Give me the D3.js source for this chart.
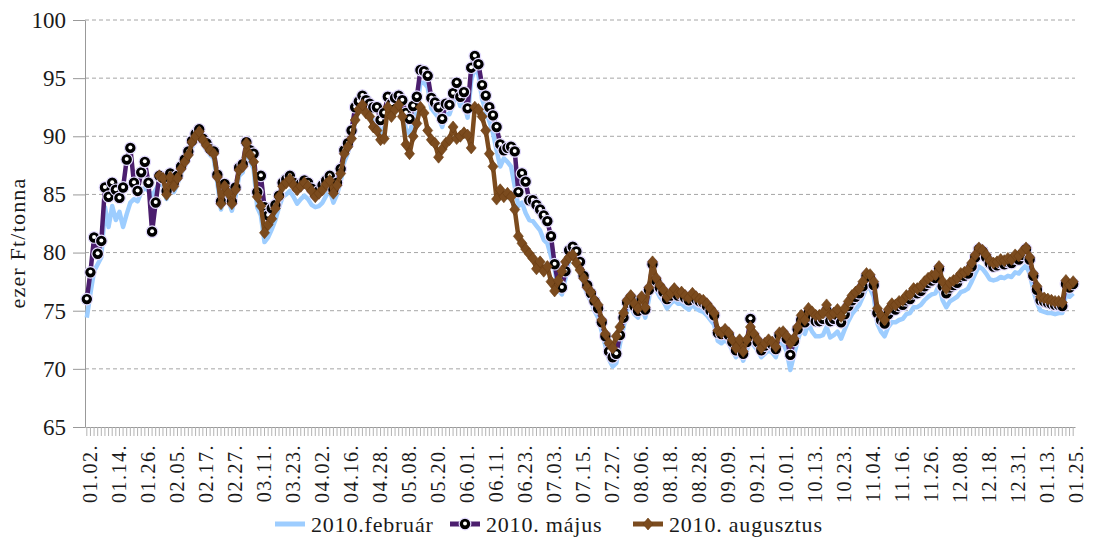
<!DOCTYPE html>
<html>
<head>
<meta charset="utf-8">
<script src="https://cdn.jsdelivr.net/npm/d3@7"></script>
<style>
  body { margin: 0; background: #fff; }
  text { font-family: "Liberation Serif", "Times New Roman", serif; fill: #1a1a1a; }
</style>
</head>
<body>
<script>
// tick labels, one every 8 trading days
const tickLabels = ["01.02.", "01.14.", "01.26.", "02.05.", "02.17.", "02.27.", "03.11.", "03.23.", "04.02.",
  "04.16.", "04.28.", "05.08.", "05.20.", "06.01.", "06.11.", "06.23.", "07.03.", "07.15.", "07.27.",
  "08.06.", "08.18.", "08.28.", "09.09.", "09.21.", "10.01.", "10.13.", "10.23.", "11.04.", "11.16.",
  "11.26.", "12.08.", "12.18.", "12.31.", "01.13.", "01.25."];
const labelStep = 8;

const seriesNames = ["2010.február", "2010. május", "2010. augusztus"];

const februar = [
  74.4, 76.5, 78.4, 79.0, 79.6, 83.9, 82.2, 84.0, 82.8, 83.5,
  82.2, 83.3, 84.3, 84.6, 84.4, 85.2, 85.6, 85.3, 84.9, 85.4,
  86.0, 85.8, 84.6, 86.0, 85.2, 85.9, 86.8, 87.4, 88.0, 89.0,
  89.7, 90.1, 89.3, 88.8, 88.4, 88.1, 86.0, 83.7, 85.2, 84.5,
  83.6, 84.8, 86.6, 86.9, 88.9, 87.9, 87.2, 83.9, 83.2, 80.9,
  81.3, 82.0, 82.8, 83.9, 84.8, 85.0, 85.3, 84.8, 84.2, 84.6,
  84.9, 84.6, 84.1, 83.9, 84.0, 84.3, 84.9, 85.3, 84.3, 85.0,
  86.1, 87.8, 88.6, 89.6, 91.4, 92.2, 92.7, 92.2, 91.9, 91.4,
  91.3, 90.2, 90.8, 92.5, 91.8, 92.4, 92.8, 92.2, 90.6, 90.2,
  91.4, 92.4, 94.6, 94.6, 94.2, 92.4, 92.0, 91.6, 90.8, 91.9,
  91.9, 92.8, 93.6, 92.6, 92.9, 91.6, 94.8, 95.9, 95.3, 93.2,
  92.2, 91.3, 90.3, 88.8, 87.4, 88.1, 87.8, 87.4, 85.7, 84.0,
  84.3, 83.4, 82.8, 82.7, 82.3, 81.9, 81.1, 80.8, 79.7, 78.6,
  76.8, 76.4, 77.8, 79.4, 79.7, 79.3, 78.4, 77.3, 76.4, 75.8,
  75.0, 74.4, 73.2, 72.0, 70.8, 70.2, 70.5, 72.1, 73.6, 75.0,
  75.4, 74.7, 74.4, 75.4, 74.4, 76.0, 78.2, 76.8, 76.2, 75.8,
  75.2, 75.6, 75.9, 75.6, 75.6, 75.3, 75.1, 75.5, 75.2, 75.0,
  74.9, 74.6, 74.2, 73.8, 72.4, 72.2, 72.5, 72.2, 71.6, 71.0,
  71.6, 70.7, 71.6, 72.6, 72.0, 71.6, 71.0, 71.3, 71.6, 71.4,
  71.0, 72.1, 72.2, 71.5, 69.9, 71.2, 72.4, 73.4, 73.0, 73.9,
  73.2, 72.8, 72.8, 72.9, 73.6, 72.7, 72.9, 73.2, 72.6, 73.4,
  74.1, 74.7, 75.1, 75.5, 76.2, 77.0, 76.9, 76.2, 73.9, 73.2,
  72.8, 73.6, 74.0, 74.0, 74.2, 74.3, 74.7, 74.8, 75.3, 75.3,
  75.5, 75.9, 76.2, 76.4, 76.5, 77.2, 75.9, 75.3, 75.8, 76.0,
  76.2, 76.6, 76.7, 76.9, 77.5, 78.2, 78.8, 78.6, 78.2, 77.7,
  77.6, 77.7, 77.9, 77.8, 78.0, 77.9, 78.3, 78.2, 78.6, 78.9,
  78.2, 76.8, 75.7, 75.0, 74.9, 74.8, 74.8, 74.7, 74.8, 74.8,
  76.4, 76.2, 76.5
];

const majus = [
  76.0, 78.3, 81.3, 79.9, 81.0, 85.6, 84.8, 86.0, 85.4, 84.7,
  85.6, 88.0, 89.0, 86.0, 85.3, 86.9, 87.8, 86.0, 81.8, 84.3,
  86.6, 86.4, 85.3, 86.8, 86.0, 86.6, 87.4, 88.0, 88.7, 89.6,
  90.2, 90.6, 89.8, 89.4, 88.9, 88.7, 86.7, 84.4, 85.9, 85.3,
  84.4, 85.6, 87.3, 87.6, 89.5, 88.8, 88.5, 85.2, 86.6, 83.9,
  83.2, 83.8, 84.1, 84.9, 86.0, 86.3, 86.6, 86.0, 85.6, 85.9,
  86.2, 86.0, 85.5, 85.0, 85.3, 85.8, 86.2, 86.6, 85.4, 86.0,
  87.2, 88.8, 89.4, 90.5, 92.5, 93.0, 93.5, 93.1, 92.8, 92.5,
  92.5, 91.4, 92.0, 93.4, 92.8, 93.3, 93.5, 93.1, 92.0, 91.5,
  92.6, 93.4, 95.7, 95.6, 95.2, 93.3, 92.9, 92.5, 91.5, 92.8,
  92.7, 93.7, 94.6, 93.4, 93.8, 92.4, 95.9, 96.9, 96.2, 94.4,
  93.5, 92.5, 91.8, 90.8, 89.3, 88.8, 89.0, 89.1, 88.7, 85.2,
  86.8, 86.1, 84.5, 84.5, 84.1, 83.7, 83.2, 82.7, 81.4, 79.0,
  77.3, 77.0, 78.4, 80.2, 80.5, 80.1, 79.2, 78.0, 77.2, 76.5,
  75.8, 75.2, 74.0, 72.8, 71.5, 71.0, 71.3, 72.9, 74.4, 75.7,
  76.1, 75.4, 75.0, 76.0, 75.1, 76.8, 79.0, 77.6, 77.0, 76.6,
  76.0, 76.3, 76.7, 76.3, 76.4, 76.1, 75.9, 76.3, 76.0, 75.8,
  75.7, 75.4, 75.0, 74.6, 73.1, 73.0, 73.2, 72.9, 72.3, 71.6,
  72.3, 71.3, 72.3, 74.3, 72.8, 72.3, 71.6, 72.0, 72.3, 72.1,
  71.7, 72.9, 73.0, 72.6, 71.2, 72.4, 73.4, 74.2, 74.0, 74.8,
  74.4, 74.1, 74.1, 74.3, 75.0, 74.1, 74.3, 74.6, 74.0, 74.7,
  75.4, 75.9, 76.2, 76.5, 77.1, 78.0, 77.8, 77.2, 74.8, 74.2,
  73.9, 74.7, 75.2, 75.1, 75.4, 75.5, 75.9, 76.0, 76.5, 76.5,
  76.7, 77.1, 77.4, 77.6, 77.8, 78.6, 77.1, 76.5, 77.0, 77.2,
  77.4, 77.9, 78.0, 78.2, 78.8, 79.6, 80.3, 80.1, 79.6, 79.1,
  78.8, 78.9, 79.1, 79.0, 79.2, 79.1, 79.5, 79.4, 79.8, 80.3,
  79.4, 78.0, 76.8, 75.9, 75.8, 75.7, 75.6, 75.5, 75.5, 75.4,
  77.3, 77.0, 77.3
];

const augusztus = [
  null, null, null, null, null, null, null, null, null, null,
  null, null, null, null, null, null, null, null, null, null,
  86.6, 86.4, 85.0, 86.5, 85.7, 86.4, 87.2, 87.8, 88.4, 89.5,
  90.0, 90.4, 89.7, 89.2, 88.8, 88.5, 86.5, 84.2, 85.7, 85.1,
  84.2, 85.4, 87.1, 87.4, 89.4, 88.4, 87.8, 84.8, 84.0, 81.7,
  82.4, 82.9, 83.8, 84.8, 85.7, 86.0, 86.3, 85.8, 85.4, 85.7,
  86.0, 85.7, 85.3, 84.8, 85.1, 85.4, 85.9, 86.2, 85.1, 85.8,
  86.8, 88.5, 89.1, 89.8, 91.4, 92.3, 92.7, 92.0, 91.7, 90.8,
  90.5, 89.7, 89.8, 92.5, 91.7, 92.3, 92.7, 91.7, 89.3, 88.5,
  90.0, 91.1, 92.5, 92.0, 90.5, 89.7, 89.4, 88.2, 88.9, 89.4,
  89.7, 90.8, 89.8, 90.0, 90.3, 90.1, 89.0, 92.5, 92.3, 91.7,
  90.5, 88.5, 87.4, 84.6, 85.4, 84.8, 85.1, 84.8, 83.7, 81.4,
  80.8, 80.3, 79.9, 79.5, 78.6, 79.2, 78.4, 78.8, 77.5, 76.7,
  77.6, 78.4, 79.2, 79.6, 79.8, 79.1, 78.5, 77.8, 77.0, 76.6,
  75.9, 75.5, 74.2, 73.0, 72.2, 71.8, 72.8, 73.6, 74.8, 75.9,
  76.3, 75.6, 75.2, 76.2, 75.3, 77.0, 79.2, 77.8, 77.2, 76.8,
  76.2, 76.5, 76.9, 76.5, 76.6, 76.3, 76.1, 76.5, 76.2, 76.0,
  75.9, 75.6, 75.2, 74.8, 73.3, 73.1, 73.4, 73.1, 72.5, 71.8,
  72.5, 71.5, 72.5, 73.6, 73.0, 72.5, 71.8, 72.2, 72.5, 72.3,
  71.9, 73.1, 73.2, 72.8, 72.2, 72.6, 73.6, 74.6, 74.2, 75.2,
  74.9, 74.6, 74.6, 74.8, 75.5, 74.6, 74.8, 75.1, 74.5, 75.2,
  75.8, 76.3, 76.6, 76.9, 77.5, 78.2, 78.1, 77.5, 75.2, 74.6,
  74.2, 75.1, 75.6, 75.5, 75.8, 75.9, 76.3, 76.4, 76.9, 76.9,
  77.1, 77.5, 77.8, 78.0, 78.1, 78.8, 77.5, 76.9, 77.4, 77.6,
  77.8, 78.2, 78.3, 78.5, 79.1, 79.8, 80.4, 80.2, 79.8, 79.3,
  79.1, 79.2, 79.4, 79.3, 79.5, 79.4, 79.8, 79.7, 80.1, 80.4,
  79.6, 78.2, 77.1, 76.2, 76.1, 76.0, 75.9, 75.8, 75.8, 75.7,
  77.6, 77.2, 77.5
];

const blue = "#9dcdff", purple = "#4b1e6e", brown = "#7b4b1e";

let width = 1096, height = 541;
let plot = { left: 85, right: 1075, top: 20, bottom: 427 };

let svg = d3.select("body").append("svg")
  .attr("width", width)
  .attr("height", height);

let x = d3.scaleBand()
  .domain(majus.map((d, i) => i))
  .range([plot.left, plot.right]);
let cx = i => x(i) + x.bandwidth() / 2;

let y = d3.scaleLinear()
  .domain([65, 100])
  .range([plot.bottom, plot.top]);

// dashed grid
svg.append("g")
  .selectAll("line")
  .data(y.ticks(7).filter(v => v > 65))
  .join("line")
  .attr("x1", plot.left)
  .attr("x2", plot.right)
  .attr("y1", d => y(d))
  .attr("y2", d => y(d))
  .attr("stroke", "#a6a6a6")
  .attr("stroke-dasharray", "4,3");

// y axis
svg.append("g")
  .attr("transform", "translate(" + plot.left + ",0)")
  .call(d3.axisLeft(y).tickValues(y.ticks(7)).tickSize(12).tickSizeOuter(0).tickPadding(7))
  .call(g => {
    g.select(".domain").attr("stroke", "#999");
    g.selectAll(".tick line").attr("stroke", "#999");
    g.selectAll(".tick text")
      .attr("font-size", 23)
      .attr("fill", "#1a1a1a");
  });

// x axis: one tick per day
svg.append("g")
  .attr("transform", "translate(0," + plot.bottom + ")")
  .call(d3.axisBottom(x).tickSize(9).tickSizeOuter(0).tickFormat(""))
  .call(g => {
    g.select(".domain").attr("stroke", "#999");
    g.selectAll(".tick line").attr("stroke", "#b3b3b3");
  });

svg.append("g")
  .selectAll("text")
  .data(tickLabels)
  .join("text")
  .attr("transform", (d, k) => "translate(" + (cx(k * labelStep) + 3) + "," + (plot.bottom + 17) + ") rotate(-90)")
  .attr("text-anchor", "end")
  .attr("dy", "0.35em")
  .attr("font-size", 20)
  .attr("letter-spacing", 1.5)
  .text(d => d);

// y title
svg.append("text")
  .attr("transform", "translate(25,243) rotate(-90)")
  .attr("text-anchor", "middle")
  .attr("font-size", 22)
  .attr("letter-spacing", 1.2)
  .text("ezer Ft/tonna");

let line = d3.line()
  .defined(d => d != null)
  .x((d, i) => cx(i))
  .y(d => y(d));

let diamond = "M0,-6L5,0L0,6L-5,0Z";

function addDot(sel) {
  sel.append("circle")
    .attr("r", 5.8)
    .attr("fill", "#000")
    .attr("stroke", "#e4dcff")
    .attr("stroke-width", 1.2);
  sel.append("circle")
    .attr("cy", -0.5)
    .attr("r", 2)
    .attr("fill", "#fff");
}

// február
svg.append("path")
  .datum(februar)
  .attr("fill", "none")
  .attr("stroke", blue)
  .attr("stroke-width", 4.5)
  .attr("stroke-linejoin", "round")
  .attr("d", line);

// május
svg.append("path")
  .datum(majus)
  .attr("fill", "none")
  .attr("stroke", purple)
  .attr("stroke-width", 4.5)
  .attr("stroke-linejoin", "round")
  .attr("d", line);

svg.append("g")
  .selectAll("g")
  .data(majus.map((v, i) => [i, v]))
  .join("g")
  .attr("transform", d => "translate(" + cx(d[0]) + "," + y(d[1]) + ")")
  .call(addDot);

// augusztus
svg.append("path")
  .datum(augusztus)
  .attr("fill", "none")
  .attr("stroke", brown)
  .attr("stroke-width", 4.5)
  .attr("stroke-linejoin", "round")
  .attr("d", line);

svg.append("g")
  .selectAll("path")
  .data(augusztus.map((v, i) => [i, v]).filter(d => d[1] != null))
  .join("path")
  .attr("transform", d => "translate(" + cx(d[0]) + "," + y(d[1]) + ")")
  .attr("d", diamond)
  .attr("fill", brown)
  .attr("stroke", "#6a3d12")
  .attr("stroke-width", 0.6);

// legend
let legendItems = [
  { name: seriesNames[0], color: blue, x: 275, marker: null },
  { name: seriesNames[1], color: purple, x: 450, marker: "circle" },
  { name: seriesNames[2], color: brown, x: 633, marker: "diamond" }
];
let legend = svg.append("g").attr("transform", "translate(0,524)");
legendItems.forEach(item => {
  let g = legend.append("g").attr("transform", "translate(" + item.x + ",0)");
  g.append("line")
    .attr("x1", 0).attr("x2", 30)
    .attr("stroke", item.color)
    .attr("stroke-width", 5);
  if (item.marker === "circle") {
    g.append("g").attr("transform", "translate(15,0)").call(addDot);
  }
  if (item.marker === "diamond") {
    g.append("path").attr("transform", "translate(15,0)").attr("d", diamond)
      .attr("fill", brown).attr("stroke", "#6a3d12").attr("stroke-width", 0.6);
  }
  g.append("text")
    .attr("x", 36)
    .attr("dy", "0.35em")
    .attr("font-size", 22)
    .attr("letter-spacing", 0.8)
    .text(item.name);
});
</script>
</body>
</html>
